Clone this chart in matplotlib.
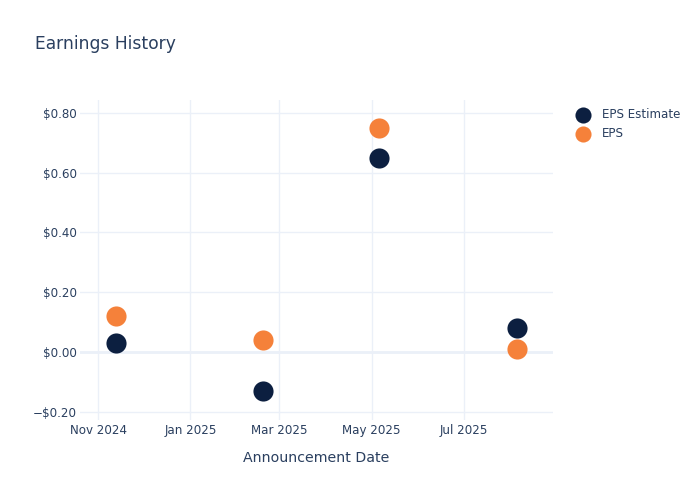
import matplotlib
matplotlib.use("Agg")
import matplotlib.pyplot as plt
import matplotlib.dates as mdates
import numpy as np
import pandas as pd

# announcement dates and EPS values
dates = pd.to_datetime(["2024-11-13", "2025-02-18", "2025-05-06", "2025-08-05"])
eps_estimate = [0.03, -0.13, 0.65, 0.08]
eps_actual = [0.12, 0.04, 0.75, 0.01]
y_ticks = [-0.2, 0.0, 0.2, 0.4, 0.6, 0.8]
x_ticks = pd.to_datetime(["2024-11-01", "2025-01-01", "2025-03-01", "2025-05-01", "2025-07-01"])

TXT = "#2a3f5f"
GRID = "#ebf0f8"
NAVY = "#0c1f40"
ORANGE = "#f5813a"

plt.rcParams["font.family"] = ["DejaVu Sans"]

fig = plt.figure(figsize=(7, 5), dpi=100)
ax = fig.add_axes([80 / 700, 80 / 500, (553 - 80) / 700, 320 / 500])

ax.scatter(dates, eps_estimate, s=210, color=NAVY, zorder=3, label="EPS Estimate", linewidths=0)
ax.scatter(dates, eps_actual, s=210, color=ORANGE, zorder=3, label="EPS", linewidths=0)

ax.set_xlim(pd.Timestamp("2024-10-20"), pd.Timestamp("2025-08-29"))
ax.set_ylim(-0.2276, 0.8435)
ax.set_xticks(x_ticks)
ax.xaxis.set_major_formatter(mdates.DateFormatter("%b %Y"))
ax.set_yticks(y_ticks)
ax.set_yticklabels([("\u2212$%.2f" % -v) if v < 0 else ("$%.2f" % v) for v in y_ticks])

ax.grid(True, color=GRID, lw=1)
ax.axhline(0, color=GRID, lw=2, zorder=1)
ax.set_axisbelow(True)
for s in ax.spines.values():
    s.set_visible(False)
ax.tick_params(length=0, colors=TXT, labelsize=8.6)
ax.tick_params(axis="x", pad=3)
ax.tick_params(axis="y", pad=2)

ax.set_xlabel("Announcement Date", color=TXT, fontsize=10.2, labelpad=10)
fig.text(35 / 700, 1 - 44 / 500, "Earnings History", color=TXT, fontsize=12.3, va="center")

leg = ax.legend(loc="upper left", bbox_to_anchor=(1.02, 1.0), frameon=False,
                fontsize=8.6, labelcolor=TXT, handletextpad=0.6, borderaxespad=0.3,
                labelspacing=0.45, markerscale=0.8)

fig.savefig("out.png", dpi=100)
